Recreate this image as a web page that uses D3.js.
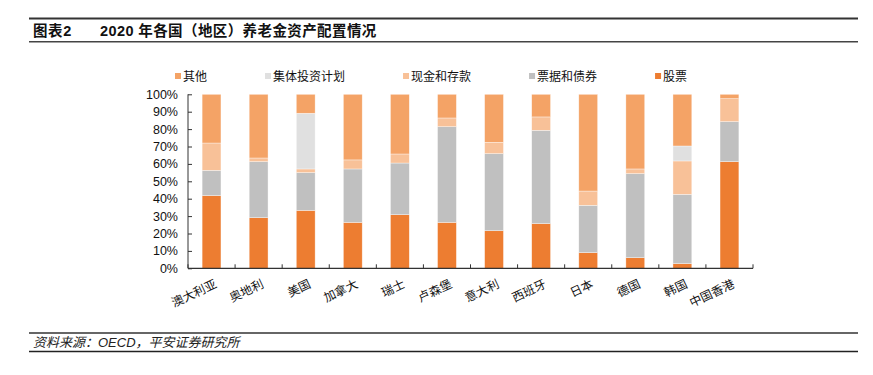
<!DOCTYPE html>
<html>
<head>
<meta charset="utf-8">
<script src="https://cdn.jsdelivr.net/npm/d3@7"></script>
<style>
  body { margin: 0; background: #fff; }
  svg { display: block; font-family: "Liberation Sans", Arial, "Noto Sans CJK SC", sans-serif; }
</style>
</head>
<body>
<svg id="chart" width="873" height="375"></svg>
<script>
// 2020 pension asset allocation by country / region (percent)
var categories = ["澳大利亚", "奥地利", "美国", "加拿大", "瑞士", "卢森堡", "意大利", "西班牙", "日本", "德国", "韩国", "中国香港"]
var stocks     = [41.8, 29.1, 33.3, 26.4, 30.8, 26.4, 21.6, 25.7,  9.0,  6.1,  2.7, 61.3]
var bonds      = [14.5, 32.2, 21.7, 30.7, 29.7, 55.0, 44.3, 53.6, 27.2, 48.3, 39.8, 23.0]
var cash       = [15.7,  2.1,  2.1,  5.2,  5.2,  5.0,  6.5,  7.7,  8.2,  2.7, 19.2, 13.2]
var collective = [   0,    0, 32.0,    0,    0,    0,    0,    0,    0,    0,  8.6,    0]
var others     = [28.0, 36.6, 10.9, 37.7, 34.3, 13.6, 27.6, 13.0, 55.6, 42.9, 29.7,  2.5]
var yTicks = [0, 10, 20, 30, 40, 50, 60, 70, 80, 90, 100]

// stacked bottom -> top
var series = [
	{ key: "stocks", name: "股票", values: stocks, color: "#ED7D31" },
	{ key: "bonds", name: "票据和债券", values: bonds, color: "#C0C0C0" },
	{ key: "cash", name: "现金和存款", values: cash, color: "#F8C198" },
	{ key: "collective", name: "集体投资计划", values: collective, color: "#E0E0E0" },
	{ key: "others", name: "其他", values: others, color: "#F4A366" }
]

var svg = d3.select("#chart")

// title block
svg.append("line").attr("x1", 29).attr("x2", 858).attr("y1", 18.5).attr("y2", 18.5)
	.attr("stroke", "#333").attr("stroke-width", 1.8)
svg.append("line").attr("x1", 29).attr("x2", 858).attr("y1", 41.8).attr("y2", 41.8)
	.attr("stroke", "#444").attr("stroke-width", 1.6)
svg.append("text").attr("x", 33).attr("y", 36).attr("font-size", 14.5).attr("font-weight", "bold")
	.attr("fill", "#111").attr("letter-spacing", 0.6).text("图表2")
svg.append("text").attr("x", 100).attr("y", 36).attr("font-size", 14.5).attr("font-weight", "bold")
	.attr("fill", "#111").attr("letter-spacing", 0.4).text("2020 年各国（地区）养老金资产配置情况")

// footer
svg.append("line").attr("x1", 29).attr("x2", 858).attr("y1", 333).attr("y2", 333)
	.attr("stroke", "#333").attr("stroke-width", 1.5)
svg.append("line").attr("x1", 29).attr("x2", 858).attr("y1", 351.5).attr("y2", 351.5)
	.attr("stroke", "#222").attr("stroke-width", 1.5)
svg.append("text").attr("x", 33).attr("y", 347).attr("font-size", 13).attr("font-style", "italic")
	.attr("fill", "#222").text("资料来源：OECD，平安证券研究所")

var plot = { left: 188, right: 753, top: 94.3, bottom: 268.3 }

var x = d3.scaleBand()
	.domain(categories)
	.range([plot.left, plot.right])
	.paddingInner(0.6)
	.paddingOuter(0.3)

var y = d3.scaleLinear()
	.domain([0, 100])
	.range([plot.bottom, plot.top])

var rows = categories.map(function(c, i) {
	var r = { cat: c }
	series.forEach(function(s) { r[s.key] = s.values[i] })
	return r
})

var stacked = d3.stack().keys(series.map(function(s) { return s.key }))(rows)

svg.append("g")
	.selectAll("g")
	.data(stacked)
	.enter()
	.append("g")
	.attr("fill", function(d, i) { return series[i].color })
	.selectAll("rect")
	.data(function(d) { return d })
	.enter()
	.append("rect")
	.attr("x", function(d) { return x(d.data.cat) })
	.attr("width", x.bandwidth())
	.attr("y", function(d) { return y(d[1]) })
	.attr("height", function(d) { return Math.max(0, y(d[0]) - y(d[1])) })
	.attr("stroke", "#fff")
	.attr("stroke-opacity", function(d) { return d[1] - d[0] > 0 ? 0.6 : 0 })
	.attr("stroke-width", 0.6)

// y axis
var yAxis = svg.append("g")
	.attr("transform", "translate(" + plot.left + ",0)")
	.call(d3.axisLeft(y)
		.tickValues(yTicks)
		.tickFormat(function(d) { return d + "%" })
		.tickSize(-4)
		.tickPadding(10))
yAxis.select(".domain").attr("stroke", "#333").attr("d", "M0," + plot.top + "V" + plot.bottom)
yAxis.selectAll(".tick line").attr("stroke", "#333")
yAxis.selectAll(".tick text")
	.attr("font-size", 12.5)
	.attr("fill", "#111")
	.attr("font-family", "Liberation Sans, Arial, sans-serif")

// x axis: line + boundary ticks pointing up
var xg = svg.append("g")
xg.append("line")
	.attr("x1", plot.left).attr("x2", plot.right)
	.attr("y1", plot.bottom).attr("y2", plot.bottom)
	.attr("stroke", "#333").attr("stroke-width", 1.2)
var bounds = categories.map(function(c) { return x(c) - x.step() * x.paddingInner() / 2 })
bounds.push(plot.right)
xg.selectAll("line.tk")
	.data(bounds)
	.enter()
	.append("line")
	.attr("class", "tk")
	.attr("x1", function(d) { return d }).attr("x2", function(d) { return d })
	.attr("y1", plot.bottom).attr("y2", plot.bottom - 4)
	.attr("stroke", "#333")

xg.selectAll("text")
	.data(categories)
	.enter()
	.append("text")
	.attr("text-anchor", "end")
	.attr("font-size", 12)
	.attr("fill", "#111")
	.attr("font-family", "Noto Sans CJK SC, sans-serif")
	.attr("transform", function(d) {
		return "translate(" + (x(d) + x.bandwidth() / 2 + 6) + "," + 287 + ") rotate(-25)"
	})
	.text(function(d) { return d })

// legend (reverse order of stacking)
var legendItems = series.slice().reverse()
var lx = 175
var legend = svg.append("g")
legendItems.forEach(function(s) {
	legend.append("rect")
		.attr("x", lx).attr("y", 73).attr("width", 6).attr("height", 6)
		.attr("fill", s.color)
	var t = legend.append("text")
		.attr("x", lx + 8).attr("y", 81)
		.attr("font-size", 12)
		.attr("fill", "#111")
		.attr("font-family", "Noto Sans CJK SC, sans-serif")
		.text(s.name)
	lx = lx + 8 + t.node().getComputedTextLength() + 58
})
</script>
</body>
</html>
